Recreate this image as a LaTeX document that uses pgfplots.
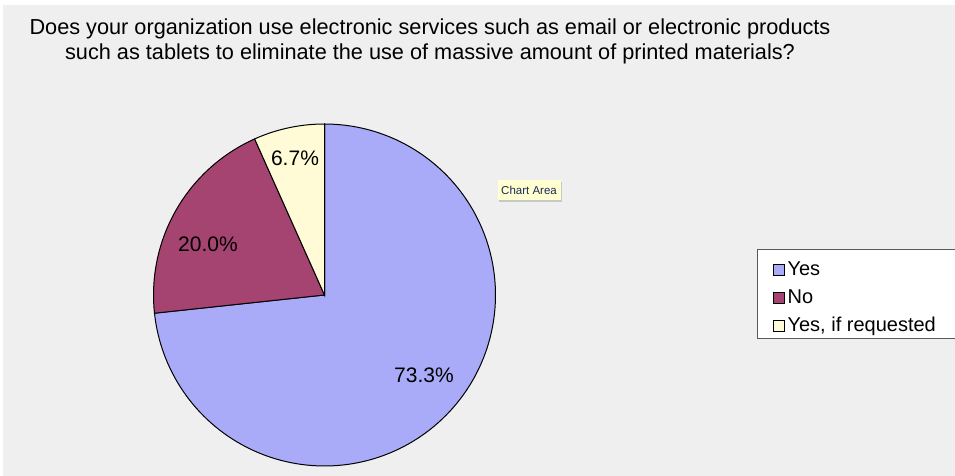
\documentclass[border=0pt]{standalone}
\usepackage{fontspec}
\setmainfont{Liberation Sans}
\usepackage{pgfplots}
\pgfplotsset{compat=1.18}
\usetikzlibrary{shadows}
\definecolor{cYes}{HTML}{AAABF8}
\definecolor{cNo}{HTML}{A54371}
\definecolor{cReq}{HTML}{FFFBD6}
\definecolor{bg}{HTML}{EFEFEF}
\definecolor{cTip}{HTML}{FFFFD2}
\definecolor{cTipText}{HTML}{1C2A55}
\begin{document}
\begin{tikzpicture}
\path[use as bounding box] (0,0) rectangle (955bp,476bp);
% shares (percent)
\def\pYes{73.3}
\def\pNo{20.0}
\def\pReq{6.7}
\pgfmathsetmacro{\aA}{90}
\pgfmathsetmacro{\aB}{90-3.6*\pYes}
\pgfmathsetmacro{\aC}{\aB-3.6*\pNo}
\pgfmathsetmacro{\aD}{\aC-3.6*\pReq}
\begin{axis}[at={(0,0)}, anchor=south west, width=955bp, height=476bp,
  scale only axis, xmin=0, xmax=955, ymin=0, ymax=476,
  axis lines=none, clip=false,
  legend cell align=left,
  legend style={at={(axis cs:770,222)}, anchor=north west, draw=none, fill=none,
    font=\fontsize{20bp}{24bp}\selectfont, row sep=0pt,
    nodes={inner ysep=5bp, inner xsep=3bp, text height=14bp, text depth=4bp}},
  legend image code/.code={\draw[#1, draw=black, line width=0.9bp] (0bp,-5.5bp) rectangle (10.5bp,5.5bp);},
]
\fill[bg] (axis cs:3,0) rectangle (axis cs:960,471);
\addplot[fill=cYes, draw=black, line width=1bp, domain=\aB:\aA, samples=150]
  ({324.5+171*cos(x)},{181+171*sin(x)}) -- (axis cs:324.5,181) -- cycle;
\addlegendentry{Yes}
\addplot[fill=cNo, draw=black, line width=1bp, domain=\aC:\aB, samples=60]
  ({324.5+171*cos(x)},{181+171*sin(x)}) -- (axis cs:324.5,181) -- cycle;
\addlegendentry{No}
\addplot[fill=cReq, draw=black, line width=1bp, domain=\aD:\aC, samples=30]
  ({324.5+171*cos(x)},{181+171*sin(x)}) -- (axis cs:324.5,181) -- cycle;
\addlegendentry{Yes, if requested}
\draw[black!65, line width=1bp, fill=white] (axis cs:757,226) rectangle (axis cs:970,137);
\node[font=\fontsize{21.7bp}{26bp}\selectfont, anchor=base] at (axis cs:430,441)
  {Does your organization use electronic services such as email or electronic products};
\node[font=\fontsize{21.7bp}{26bp}\selectfont, anchor=base] at (axis cs:430,416)
  {such as tablets to eliminate the use of massive amount of printed materials?};
\node[font=\fontsize{21bp}{24bp}\selectfont] at (axis cs:424,101) {73.3\%};
\node[font=\fontsize{21bp}{24bp}\selectfont] at (axis cs:208,232) {20.0\%};
\node[font=\fontsize{21bp}{24bp}\selectfont] at (axis cs:295,318) {6.7\%};
\node[fill=cTip, drop shadow={opacity=0.35, shadow xshift=1.5bp, shadow yshift=-2bp},
  font=\fontsize{11.5bp}{13bp}\selectfont, text=cTipText, inner sep=0pt,
  minimum height=20bp, minimum width=63bp] at (axis cs:529,286) {Chart Area};
\end{axis}
\end{tikzpicture}
\end{document}
